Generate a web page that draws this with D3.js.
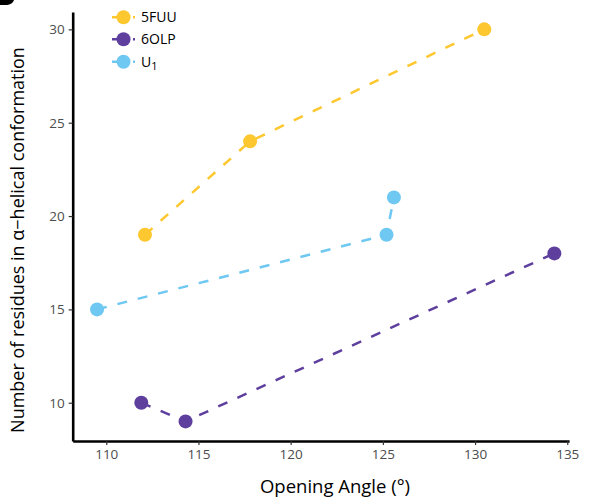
<!DOCTYPE html>
<html><head><meta charset="utf-8">
<script src="https://cdn.jsdelivr.net/npm/d3@7"></script>
<style>body{margin:0;background:#fff}svg{display:block;font-family:"Open Sans",sans-serif}</style>
</head><body>
<script>
const seriesNames = ["5FUU", "6OLP", "U1"];
const seriesColors = ["#FDC82F", "#5E3F9E", "#6EC8F1"];
const angles5FUU = [112.1, 117.8, 130.5];
const residues5FUU = [19, 24, 30];
const angles6OLP = [111.9, 114.3, 134.3];
const residues6OLP = [10, 9, 18];
const anglesU1 = [109.5, 125.2, 125.6];
const residuesU1 = [15, 19, 21];
const xTicks = [110, 115, 120, 125, 130, 135];
const yTicks = [10, 15, 20, 25, 30];

const W = 589, H = 501;
const svg = d3.select("body").append("svg").attr("width", W).attr("height", H);

const x = d3.scaleLinear().domain([108.18, 135.1]).range([72.7, 569.1]);
const y = d3.scaleLinear().domain([7.95, 30.93]).range([441, 12]);

// remnant of the panel letter cut by the top edge (shape only)
svg.append("path").attr("d", "M0,0 L14,0 C13,3 10,5 5,5 L0,5 Z").attr("fill", "#000");

const series = [
  {name: seriesNames[0], xs: angles5FUU, ys: residues5FUU, color: seriesColors[0]},
  {name: seriesNames[1], xs: angles6OLP, ys: residues6OLP, color: seriesColors[1]},
  {name: seriesNames[2], xs: anglesU1, ys: residuesU1, color: seriesColors[2]}
];

const line = d3.line().x(d => x(d[0])).y(d => y(d[1]));
series.forEach(s => {
  const pts = s.xs.map((v, i) => [v, s.ys[i]]);
  svg.append("path").attr("d", line(pts)).attr("fill", "none").attr("stroke", s.color)
    .attr("stroke-width", 2.5).attr("stroke-dasharray", "10,11");
  svg.selectAll(null).data(pts).enter().append("circle")
    .attr("cx", d => x(d[0])).attr("cy", d => y(d[1])).attr("r", 7).attr("fill", s.color);
});

// axes
const xAxis = svg.append("g").attr("transform", "translate(0,441)")
  .call(d3.axisBottom(x).tickValues(xTicks).tickSize(4).tickSizeOuter(0).tickPadding(4));
const yAxis = svg.append("g").attr("transform", "translate(72.7,0)")
  .call(d3.axisLeft(y).tickValues(yTicks).tickSize(4).tickSizeOuter(0).tickPadding(4));
[xAxis, yAxis].forEach(g => {
  g.select(".domain").attr("stroke", "#000").attr("stroke-width", 2.6);
  g.selectAll(".tick line").attr("stroke", "#333").attr("stroke-width", 1.2);
  g.selectAll(".tick text").attr("fill", "#4d4d4d").attr("font-size", 13.5).attr("font-family", "Open Sans");
});

svg.append("text").attr("x", 335).attr("y", 493).attr("text-anchor", "middle")
  .attr("font-size", 18.5).attr("fill", "#000").text("Opening Angle (°)");
svg.append("text").attr("transform", "translate(24,240) rotate(-90)").attr("text-anchor", "middle")
  .attr("font-size", 18).attr("fill", "#000").text("Number of residues in α−helical conformation");

// legend
const legY = [17.3, 39.3, 61.7];
series.forEach((s, i) => {
  const g = svg.append("g");
  g.append("line").attr("x1", 112).attr("x2", 135).attr("y1", legY[i]).attr("y2", legY[i])
    .attr("stroke", s.color).attr("stroke-width", 2.5).attr("stroke-dasharray", "10,11");
  g.append("circle").attr("cx", 123.5).attr("cy", legY[i]).attr("r", 7).attr("fill", s.color);
  const t = g.append("text").attr("x", 141).attr("y", legY[i] + 5).attr("font-size", 14).attr("fill", "#000");
  if (s.name === "U1") {
    t.append("tspan").text("U");
    t.append("tspan").attr("font-size", 11).attr("dy", 3).text("1");
  } else t.text(s.name);
});
</script>
</body></html>
